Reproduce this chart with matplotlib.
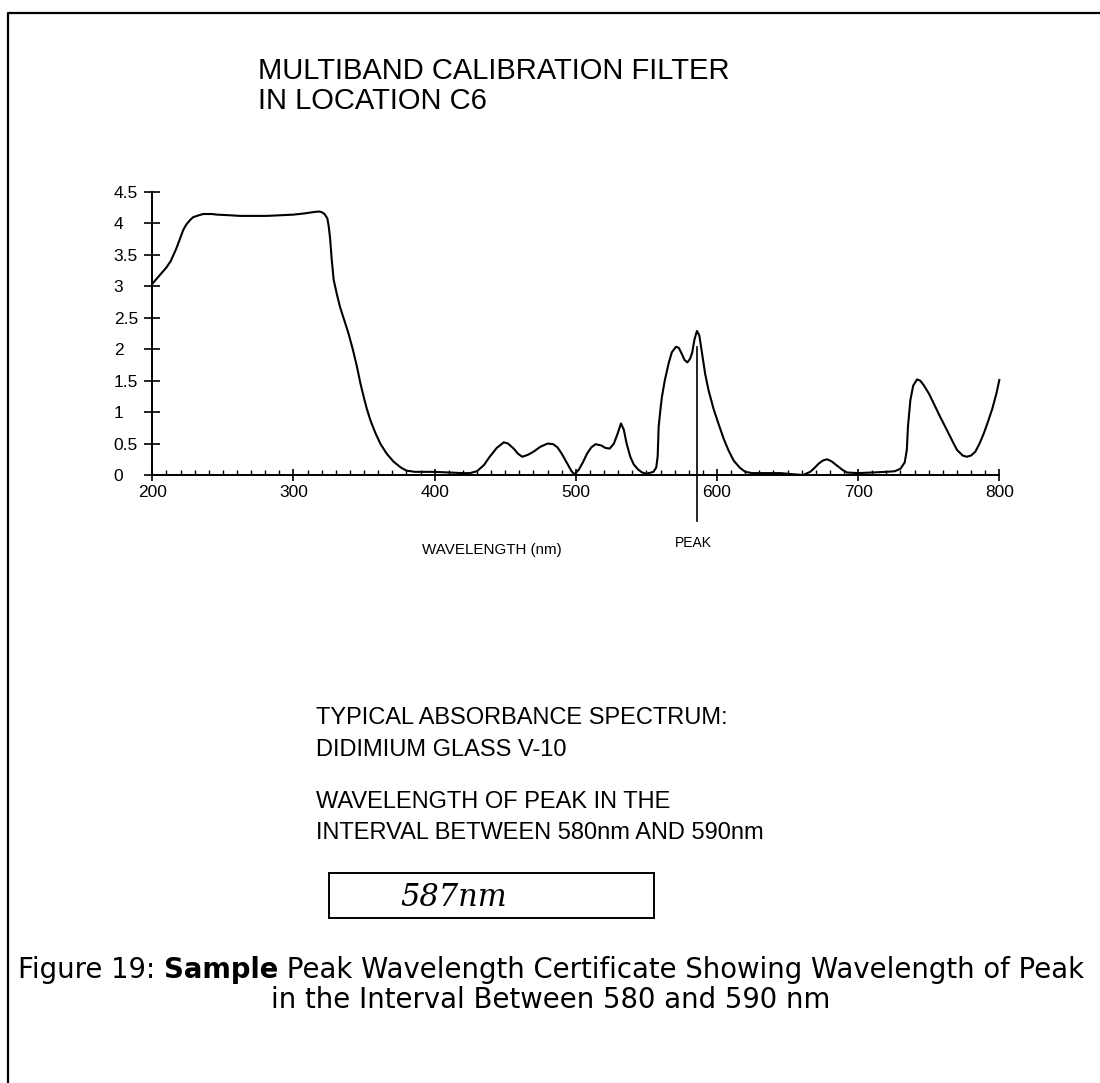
import matplotlib
matplotlib.use('Agg')
import matplotlib.pyplot as plt
from matplotlib.lines import Line2D
from matplotlib.patches import Rectangle

# absorbance spectrum
wavelength = [200, 205, 210, 213, 217, 220, 222, 224, 227, 229, 233, 236, 242, 246, 255, 262,
              270, 281, 290, 300, 308, 314, 318, 320, 322, 324, 325, 326, 327, 328.5, 331,
              333, 336, 339, 342, 345, 347.5, 350, 352, 354.5, 358, 361.5, 366, 371, 376,
              380, 386, 393, 400, 410, 420, 425, 430, 435, 439, 444, 449, 452, 456, 459,
              462, 466, 470, 475, 480, 484, 487, 490, 494, 497, 499, 502, 505, 508, 511,
              514, 518, 521, 524, 527, 529.5, 532, 534, 536, 538.6, 541, 544, 547, 550,
              555, 557, 558, 558.7, 560, 561, 563, 565.7, 568, 571, 573, 575, 577, 579,
              581, 582.5, 584, 585.8, 587.5, 589, 591.7, 594, 597.6, 601, 604.7, 608,
              611.8, 616, 620, 625, 635, 645, 655, 661, 666, 669, 672, 675, 678, 681, 685,
              689, 692, 700, 710, 720, 726, 730, 733, 734.5, 735.3, 737, 739, 741.7, 744,
              746.4, 750, 753.5, 758, 763, 767, 770, 774, 777, 780, 783, 786, 789, 792,
              795, 798, 800]
absorbance = [3.04, 3.17, 3.30, 3.40, 3.60, 3.78, 3.90, 3.98, 4.06, 4.10, 4.13, 4.15, 4.15,
              4.14, 4.13, 4.12, 4.12, 4.12, 4.13, 4.14, 4.16, 4.18, 4.19, 4.18, 4.15, 4.08,
              3.95, 3.75, 3.45, 3.10, 2.85, 2.67, 2.46, 2.25, 2.00, 1.72, 1.45, 1.22, 1.05,
              0.87, 0.67, 0.50, 0.34, 0.21, 0.12, 0.07, 0.05, 0.05, 0.05, 0.04, 0.03, 0.03,
              0.06, 0.16, 0.29, 0.43, 0.52, 0.50, 0.42, 0.34, 0.29, 0.32, 0.37, 0.45, 0.50,
              0.49, 0.44, 0.34, 0.18, 0.06, 0.01, 0.08, 0.20, 0.34, 0.44, 0.49, 0.47, 0.43,
              0.42, 0.50, 0.65, 0.82, 0.72, 0.50, 0.29, 0.17, 0.09, 0.04, 0.02, 0.05, 0.12,
              0.30, 0.77, 1.05, 1.24, 1.50, 1.77, 1.95, 2.04, 2.02, 1.93, 1.83, 1.79, 1.85,
              1.95, 2.15, 2.29, 2.22, 2.00, 1.60, 1.35, 1.05, 0.82, 0.58, 0.40, 0.23, 0.12,
              0.05, 0.03, 0.03, 0.03, 0.01, 0.0, 0.05, 0.11, 0.18, 0.23, 0.25, 0.22, 0.15,
              0.08, 0.04, 0.03, 0.04, 0.05, 0.06, 0.10, 0.20, 0.40, 0.77, 1.19, 1.42, 1.52,
              1.50, 1.43, 1.30, 1.14, 0.93, 0.71, 0.53, 0.40, 0.31, 0.29, 0.31, 0.37, 0.50,
              0.66, 0.85, 1.05, 1.30, 1.51]

peak_nm = 586
xticks = [200, 300, 400, 500, 600, 700, 800]
yticks = [0, 0.5, 1, 1.5, 2, 2.5, 3, 3.5, 4, 4.5]
ytick_labels = ['0', '0.5', '1', '1.5', '2', '2.5', '3', '3.5', '4', '4.5']

W, H = 1100, 1083
fig = plt.figure(figsize=(W / 100, H / 100), dpi=100)

def fx(px):
    return px / W

def fy(py):
    return 1 - py / H

scan_font = 'Liberation Sans'

# outer frame (only left and top edges show)
fig.add_artist(Line2D([fx(8), fx(8), fx(1100)], [fy(1083), fy(13), fy(13)],
                      color='black', lw=1.6))

ax = fig.add_axes([fx(152.3), fy(475), fx(999.3) - fx(152.3), fy(192) - fy(475)])
ax.plot(wavelength, absorbance, color='black', lw=1.5, clip_on=False)
ax.set_xlim(200, 800)
ax.set_ylim(0, 4.5)
for s in ['top', 'right']:
    ax.spines[s].set_visible(False)
ax.spines['left'].set_linewidth(1.4)
ax.spines['bottom'].set_linewidth(1.4)

ax.set_xticks(xticks)
ax.set_xticks(range(210, 800, 10), minor=True)
ax.set_yticks(yticks)
ax.set_yticklabels(ytick_labels)
ax.tick_params(axis='x', which='major', direction='inout', length=8, width=1.2,
               pad=3, labelsize=12.5)
ax.tick_params(axis='x', which='minor', direction='in', length=3.5, width=1)
ax.tick_params(axis='y', direction='inout', length=11.5, width=1.2, pad=22,
               labelsize=12.5)
for lab in ax.get_yticklabels():
    lab.set_horizontalalignment('left')
for lab in ax.get_xticklabels() + ax.get_yticklabels():
    lab.set_family(scan_font)

# peak marker
ax.plot([peak_nm, peak_nm], [2.04, -0.73], color='black', lw=1.2, clip_on=False)
fig.text(fx(693), fy(543), 'PEAK', ha='center', va='center', fontsize=10, family=scan_font)
fig.text(fx(491.7), fy(550), 'WAVELENGTH (nm)', ha='center', va='center', fontsize=10.9,
         family=scan_font)

# title
fig.text(fx(258), fy(71), 'MULTIBAND CALIBRATION FILTER', ha='left', va='center',
         fontsize=21, family=scan_font)
fig.text(fx(258), fy(101), 'IN LOCATION C6', ha='left', va='center',
         fontsize=21, family=scan_font)

# description block
for txt, y in [('TYPICAL ABSORBANCE SPECTRUM:', 718), ('DIDIMIUM GLASS V-10', 750),
               ('WAVELENGTH OF PEAK IN THE', 802), ('INTERVAL BETWEEN 580nm AND 590nm', 833)]:
    fig.text(fx(316), fy(y), txt, ha='left', va='center', fontsize=17, family=scan_font)

fig.add_artist(Rectangle((fx(329), fy(918)), fx(654) - fx(329), fy(873) - fy(918),
                         fill=False, ec='black', lw=1.4))
fig.text(fx(400), fy(897), '587nm', ha='left', va='center', fontsize=22,
         family='DejaVu Serif', style='italic')

# caption with bold word
cap_size = 19.8
renderer = fig.canvas.get_renderer()
parts = [('Figure 19: ', 'normal'), ('Sample', 'bold'),
         (' Peak Wavelength Certificate Showing Wavelength of Peak', 'normal')]
widths = []
for txt, wt in parts:
    t = fig.text(0, 0, txt, fontsize=cap_size, family='DejaVu Sans', weight=wt)
    widths.append(t.get_window_extent(renderer).width)
    t.remove()
x0 = 551 - sum(widths) / 2
for (txt, wt), w in zip(parts, widths):
    fig.text(fx(x0), fy(970), txt, ha='left', va='center', fontsize=cap_size,
             family='DejaVu Sans', weight=wt)
    x0 += w
fig.text(fx(551), fy(1000), 'in the Interval Between 580 and 590 nm', ha='center',
         va='center', fontsize=cap_size, family='DejaVu Sans')

fig.savefig('out.png', dpi=100)
